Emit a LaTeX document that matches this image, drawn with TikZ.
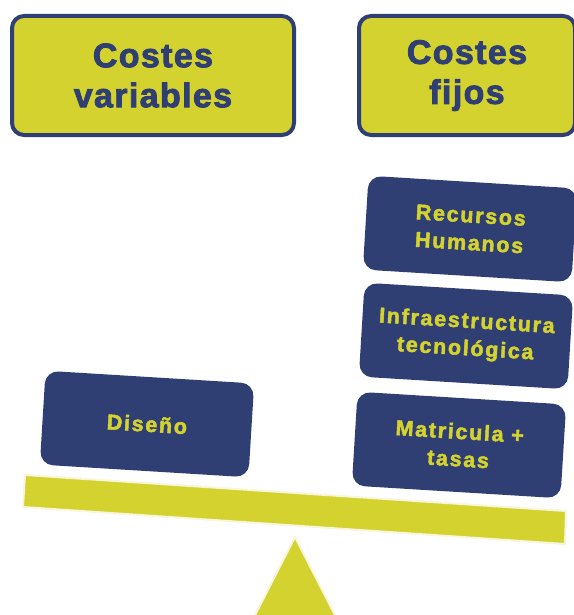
\documentclass[tikz,border=0pt]{standalone}
\usepackage{fontspec}
\setmainfont{Liberation Sans}
\newfontfamily\headfont[LetterSpace=4,FakeBold=2.5]{Liberation Sans Bold}
\newfontfamily\itemfont[LetterSpace=8,FakeBold=2.2]{Liberation Sans Bold}
\definecolor{costblue}{HTML}{2F3F73}
\definecolor{costlime}{HTML}{D4D22F}
\definecolor{costcream}{HTML}{F7F6DA}

\begin{document}
\begin{tikzpicture}[x=1pt,y=-1pt,
    header/.style={draw=costblue,line width=4pt,fill=costlime,rounded corners=12pt,
      text=costblue,align=center,minimum height=119pt,
      font=\headfont\fontsize{34}{40}\selectfont},
    item/.style={fill=costblue,rounded corners=13pt,text=costlime,align=center,
      minimum width=209pt,minimum height=94pt,rotate=-3.5,
      font=\itemfont\fontsize{21.5}{27.5}\selectfont}]

  \useasboundingbox (0,0) rectangle (573,615);

  \node[header,minimum width=282pt] (hdrvar) at (153,75.5) {Costes\\variables};
  \node[header,minimum width=216pt] (hdrfix) at (467,75.5) {Costes\\fijos};

  \draw[costcream,line width=2pt,fill=costlime] (25,475) -- (566,511) -- (565,544) -- (23,507) -- cycle;
  \draw[costcream,line width=2pt,fill=costlime] (295,537) -- (337.5,620) -- (252.5,620) -- cycle;

  \node[item] (rrhh) at (470,229) {Recursos\\Humanos};
  \node[item] (infra) at (466,336) {Infraestructura\\tecnológica};
  \node[item] (matri) at (459,445) {Matricula +\\tasas};
  \node[item] (diseno) at (147,424) {Diseño};

\end{tikzpicture}
\end{document}
